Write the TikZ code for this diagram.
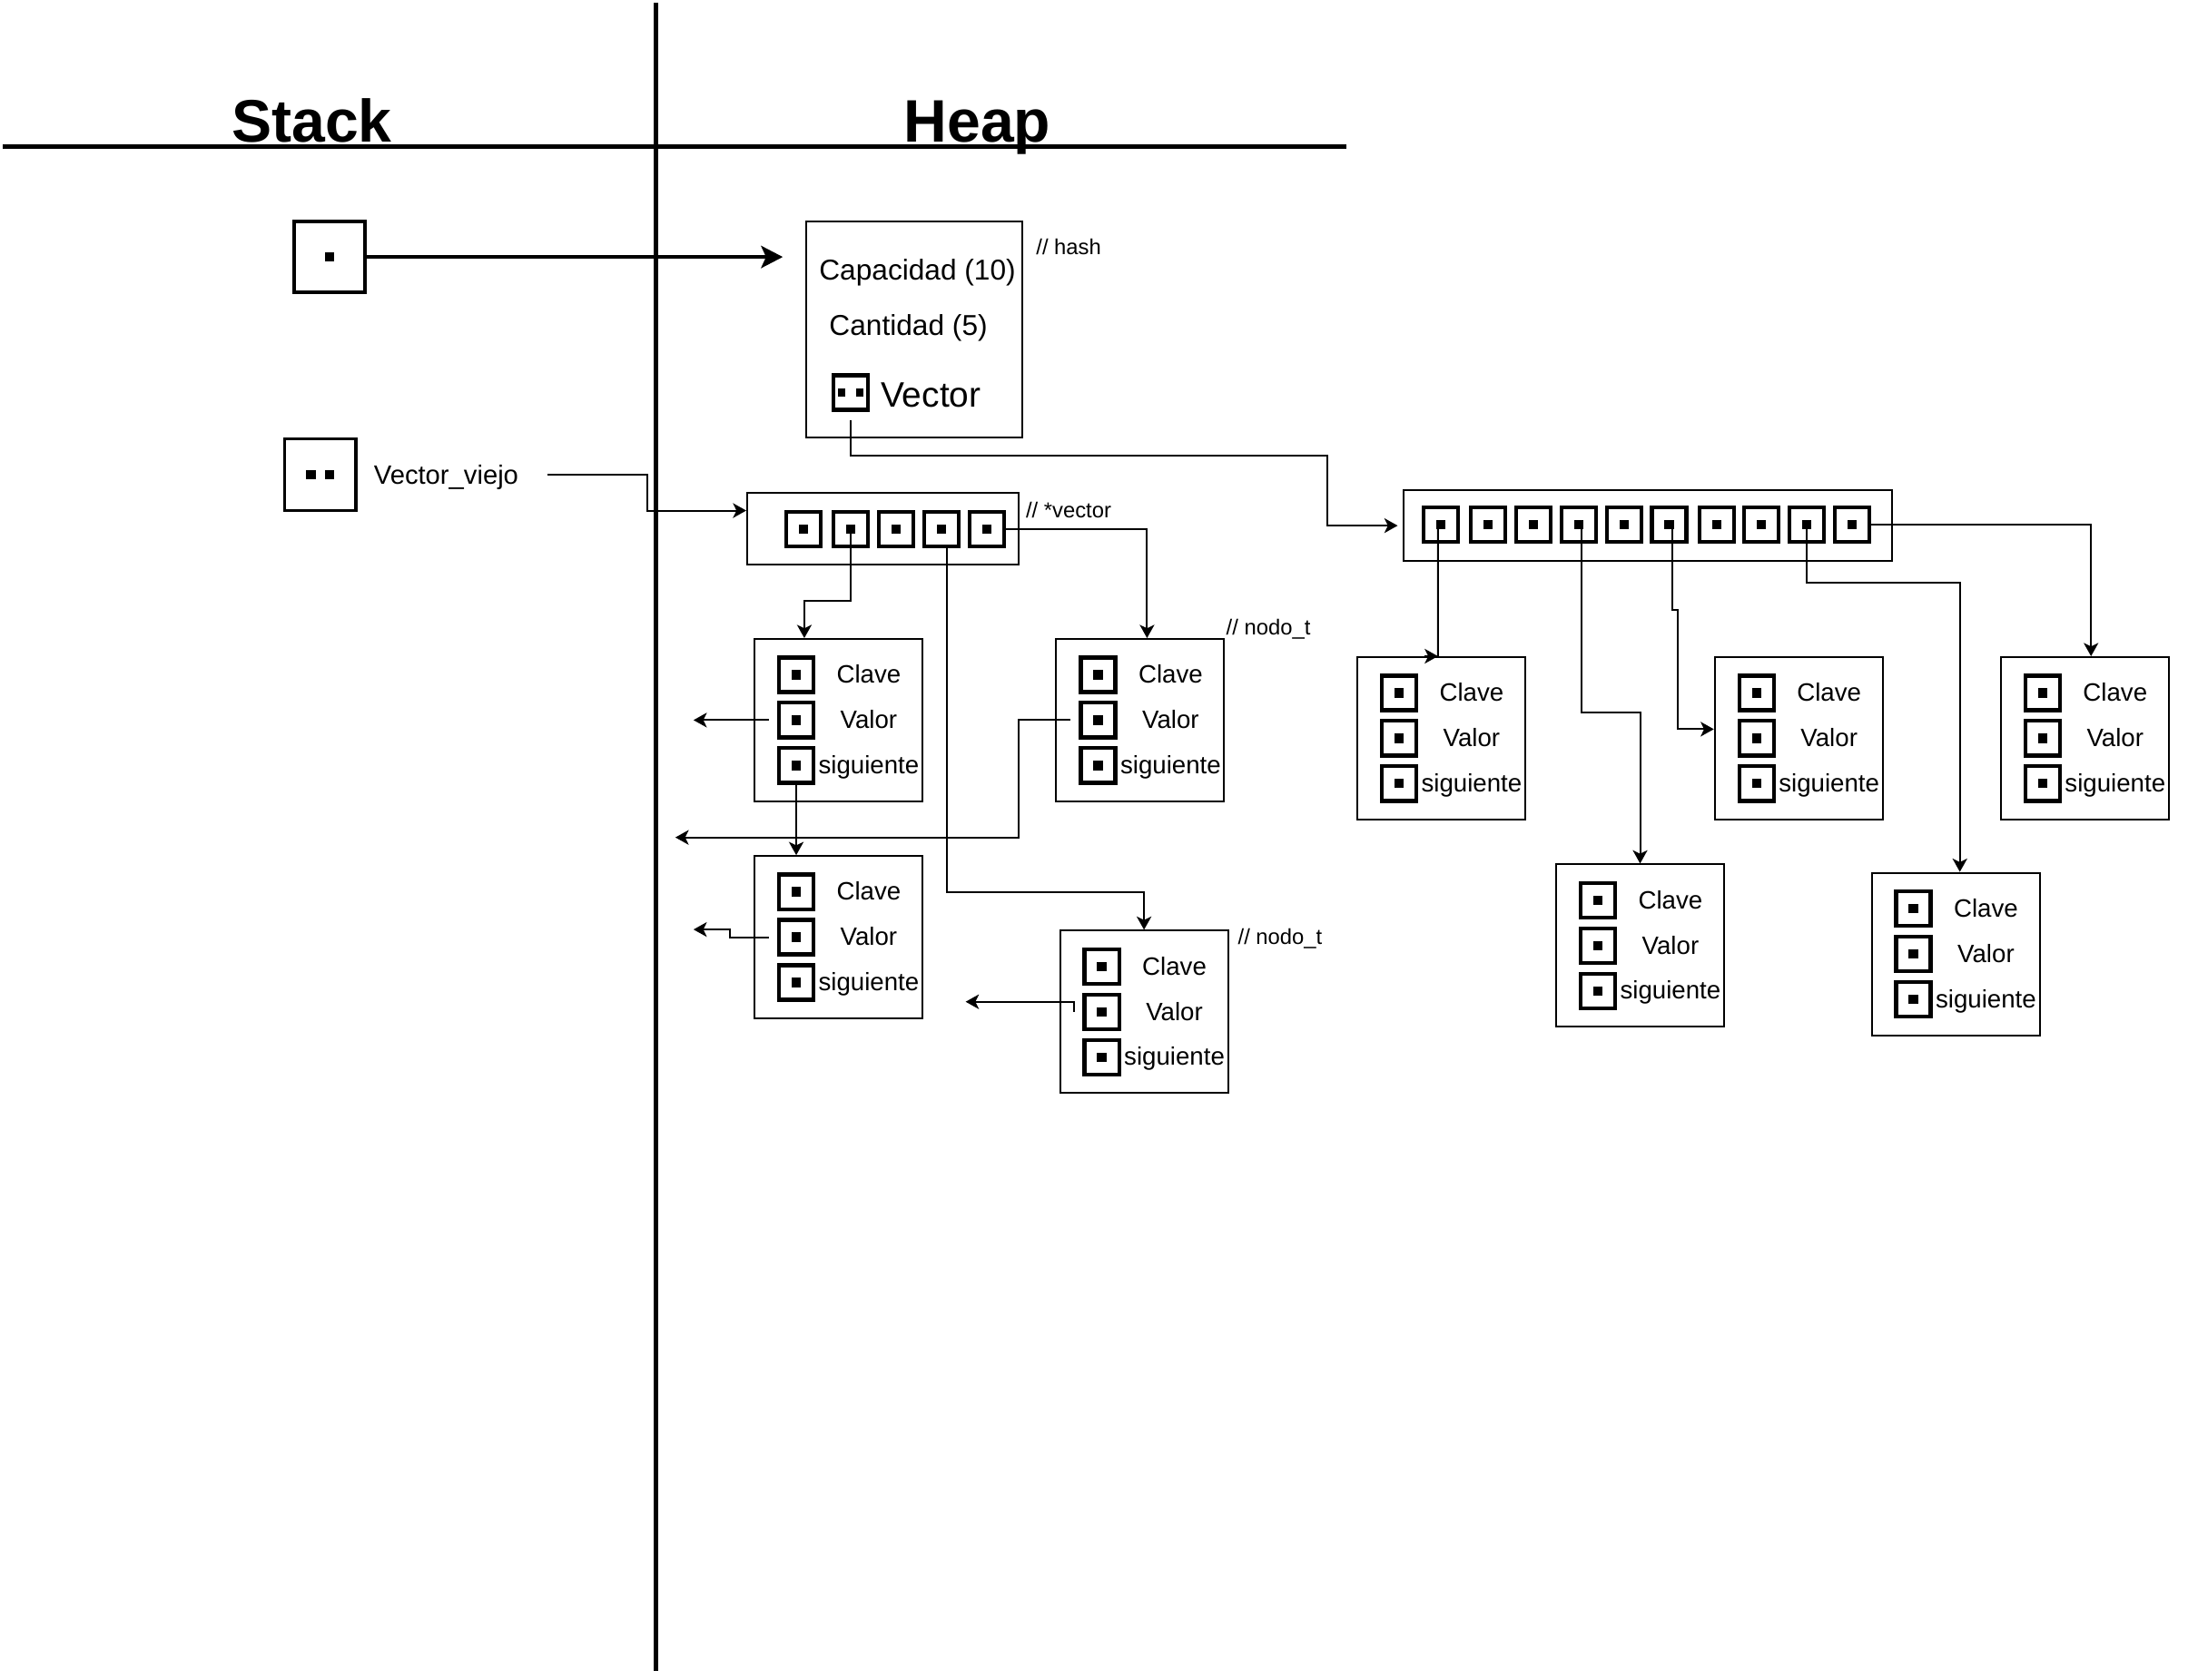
\documentclass[tikz,border=0pt]{standalone}
\usepackage{fontspec}
\setmainfont{Liberation Sans}
\usetikzlibrary{arrows.meta}

% small filled square that marks a pointer
\newcommand\pdot{\rule{6.7pt}{6.7pt}}

% a list node: box with Clave / Valor / siguiente pointer fields
\newcommand\memnode[3]{%
  \begin{scope}[shift={(#2,#3)}]
    \node[membox] (#1) at (0,0) {};
    \node[cell] (#1-k) at (30.6,26.3) {\pdot};
    \node[cell] (#1-v) at (30.6,58.8) {\pdot};
    \node[cell] (#1-s) at (30.6,91.3) {\pdot};
    \node[field] at (82.6,32.4) {Clave};
    \node[field] at (82.6,64.8) {Valor};
    \node[field] at (82.6,97.3) {siguiente};
  \end{scope}}

\tikzset{
  membox/.style={draw, line width=1.3pt, anchor=north west, inner sep=0pt,
                 minimum width=120.4pt, minimum height=116.4pt},
  cell/.style={draw, line width=2.8pt, minimum size=24.8pt, inner sep=0pt},
  field/.style={anchor=base, inner sep=0pt, font=\fontsize{18}{21}\selectfont},
  note/.style={anchor=base west, inner sep=0pt, font=\fontsize{15.5}{18}\selectfont},
  title/.style={anchor=base, inner sep=0pt, font=\fontsize{43}{50}\selectfont\bfseries},
  conn/.style={line width=1.3pt, -{Stealth[length=9.5pt,width=10.5pt,inset=2.5pt]}},
  bigarrow/.style={line width=3pt, -{Stealth[length=15.5pt,width=15.8pt,inset=3.5pt]}},
}

\begin{document}
\begin{tikzpicture}[x=1pt,y=-1pt]
\useasboundingbox (0,0) rectangle (1568,1204);

% stack / heap dividers
\draw[line width=3.5pt] (2,105) -- (965,105);
\draw[line width=3.5pt] (470,2) -- (470,1198);
\node[title] (stack) at (223.5,101.6) {Stack};
\node[title] (heap) at (700.4,101.6) {Heap};

% stack variables
\node[draw, line width=2.6pt, minimum size=51pt, inner sep=0pt] (s1) at (236.2,184.2) {\rule{6.7pt}{7pt}};
\node[draw, line width=2.2pt, minimum size=51.2pt, inner sep=0pt] (vv) at (229.5,340.3)
  {\rule{7pt}{7pt}\hspace{6.5pt}\rule{7pt}{7pt}};
\node[anchor=base west, inner sep=0pt, font=\fontsize{19}{22}\selectfont] (vvtext) at (267.8,347) {Vector\_viejo};

% hash struct
\node[draw, line width=1.3pt, minimum width=154.8pt, minimum height=154.8pt, inner sep=0pt] (hash) at (655,236) {};
\node[anchor=base, inner sep=0pt, font=\fontsize{20.6}{24}\selectfont] (cap) at (657.5,200.4) {Capacidad (10)};
\node[anchor=base, inner sep=0pt, font=\fontsize{20.6}{24}\selectfont] (cant) at (651,240.3) {Cantidad (5)};
\node[cell] (hvec) at (609.7,281.4) {\rule{5.5pt}{5.5pt}\hspace{7.5pt}\rule{5.5pt}{5.5pt}};
\node[anchor=base west, inner sep=0pt, font=\fontsize{25.3}{30}\selectfont] (vectxt) at (631,291.7) {Vector};
\node[note] (lhash) at (742.4,182.2) {// hash};

% old vector (5 buckets)
\node[draw, line width=1.3pt, minimum width=194.5pt, minimum height=51.3pt, inner sep=0pt] (ov) at (632.7,379) {};
\foreach \i/\x in {1/575.9,2/609.5,3/642,4/674.7,5/707.3}
  \node[cell] (ov\i) at (\x,379.3) {\pdot};
\node[note] (lvec) at (735,370.9) {// *vector};

% new vector (10 buckets)
\node[draw, line width=1.3pt, minimum width=350.3pt, minimum height=51.2pt, inner sep=0pt] (bv) at (1180.8,376.8) {};
\foreach \i/\x in {1/1032.4,2/1066.4,3/1098.8,4/1131.3,5/1163.8,6/1196.2,7/1230.3,8/1262.3,9/1294.8,10/1327.3}
  \node[cell] (bv\i) at (\x,376.1) {\pdot};

% list nodes
\memnode{n1}{540}{457.4}
\memnode{n2}{756.3}{457.4}
\memnode{n3}{540}{613}
\memnode{n4}{759}{666.5}
\memnode{nA}{972}{470.4}
\memnode{nB}{1114.5}{619}
\memnode{nC}{1228.2}{470.4}
\memnode{nD}{1340.6}{625}
\memnode{nE}{1433.2}{470.4}
\node[note] (lnodo1) at (878.6,455.4) {// nodo\_t};
\node[note] (lnodo2) at (887,676.7) {// nodo\_t};

% pointers
\coordinate (hashin) at (561,184.2);
\draw[bigarrow] (s1.east) -- (hashin);

\draw[conn] ([yshift=-5.85pt]hvec.south) |- (951.3,326.5) |- ([xshift=-3.4pt]bv.west);

\coordinate (vvout) at (392.2,340);
\draw[conn] (vvout) -- (463.8,340) |- ([yshift=13pt]ov.west);

\draw[conn] (ov2.center) -- ++(0,51.7) -| ([xshift=-24.45pt]n1.north);
\draw[conn] ([xshift=4pt]ov4.south) -- ++(0,246.5) -| (n4.north);
\draw[conn] (ov5.east) -| ([xshift=4.85pt]n2.north);

\coordinate (n1out) at (497,516.2);
\draw[conn] ([xshift=-5.8pt]n1-v.west) -- (n1out);
\draw[conn] (n1-s.south) -- (n1-s.south |- n3.north);
\coordinate (n2out) at (484,600.3);
\draw[conn] ([xshift=-6.3pt]n2-v.west) -- ++(-36.8,0) |- (n2out);
\draw[conn] ([xshift=-5.8pt]n3-v.west) -- ++(-27.6,0) -- ++(0,-5.5) -- ++(-26.4,0);
\draw[conn] ([xshift=-6.1pt]n4-v.west) -- ++(0,-7.2) -- ++(-77.7,0);

\draw[line width=1.3pt] ([xshift=-1.9pt]bv1.center) -- ([xshift=-2.35pt]nA.north);
\draw[conn] ([xshift=-11.85pt]nA.north) -- ([xshift=-2.35pt]nA.north);
\draw[conn] ([xshift=2pt]bv4.center) -- ++(0,134.4) -| (nB.north);
\draw[conn] ([xshift=2.5pt]bv6.center) -- ++(0,60.9) -- ++(3.8,0) |- ([yshift=6.55pt]nC.west);
\draw[conn] (bv9.center) -- ++(0,41.9) -| ([xshift=3.05pt]nD.north);
\draw[conn] (bv10.east) -| ([xshift=4.45pt]nE.north);
\end{tikzpicture}
\end{document}
